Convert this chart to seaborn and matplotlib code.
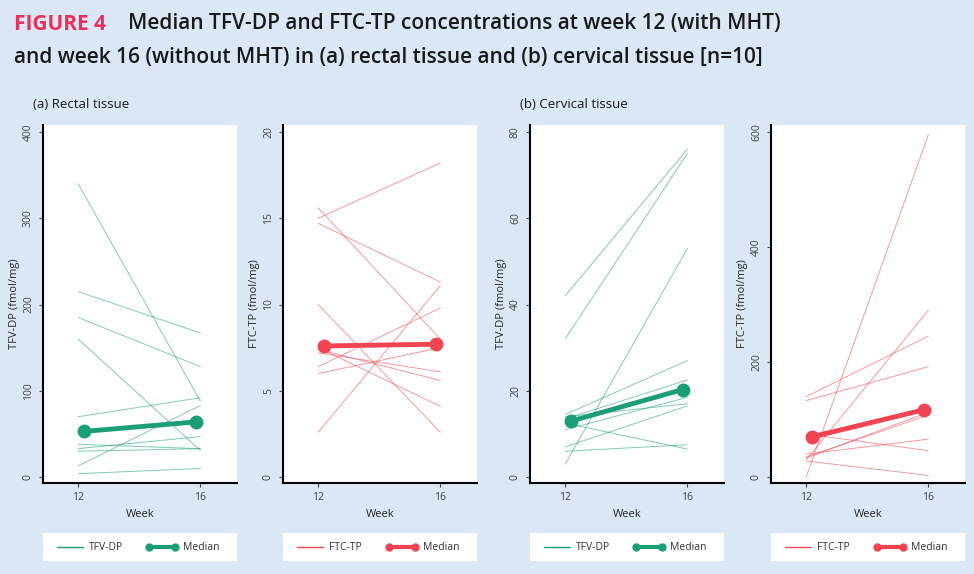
import matplotlib
matplotlib.use("Agg")
import matplotlib.pyplot as plt
import seaborn as sns
import pandas as pd

weeks = [12, 16]
rectal_tfv_12 = [340, 215, 185, 160, 70, 38, 33, 30, 13, 4]
rectal_tfv_16 = [88, 167, 128, 31, 92, 33, 47, 33, 83, 10]
rectal_tfv_median = [53, 64]
rectal_ftc_12 = [15.6, 15.0, 14.7, 10.0, 7.2, 7.5, 6.4, 6.0, 2.6, 7.4]
rectal_ftc_16 = [8.0, 18.2, 11.3, 2.6, 6.1, 4.1, 9.8, 7.5, 11.1, 5.6]
rectal_ftc_median = [7.6, 7.7]
cerv_tfv_12 = [42, 32, 3, 14.5, 13.5, 11, 14, 12.5, 7, 6]
cerv_tfv_16 = [76, 75, 53, 27, 22.5, 18.5, 17, 6.5, 16.5, 7.5]
cerv_tfv_median = [13, 20.3]
cerv_ftc_12 = [0, 140, 133, 30, 75, 40, 28, 33, 72, 35]
cerv_ftc_16 = [595, 245, 192, 290, 46, 66, 3, 113, 118, 108]
cerv_ftc_median = [70, 117]

GREEN = "#1b9e77"
RED = "#f04452"
BG = "#dbe7f4"

sns.set_theme(style="white")
plt.rcParams['font.family'] = ['Open Sans', 'DejaVu Sans']

fig = plt.figure(figsize=(9.74, 5.74), dpi=100, facecolor=BG)
W, H = 974, 574

panels = [
    (43, rectal_tfv_12, rectal_tfv_16, rectal_tfv_median, GREEN, "TFV-DP", 400, [0, 100, 200, 300, 400]),
    (283, rectal_ftc_12, rectal_ftc_16, rectal_ftc_median, RED, "FTC-TP", 20, [0, 5, 10, 15, 20]),
    (530, cerv_tfv_12, cerv_tfv_16, cerv_tfv_median, GREEN, "TFV-DP", 80, [0, 20, 40, 60, 80]),
    (771, cerv_ftc_12, cerv_ftc_16, cerv_ftc_median, RED, "FTC-TP", 600, [0, 200, 400, 600]),
]

for x0, v12, v16, med, col, name, ymax, yt in panels:
    ax = fig.add_axes([x0 / W, 1 - 483 / H, 194 / W, (483 - 125) / H])
    ax.set_facecolor("white")
    rows = []
    for i, (a, b) in enumerate(zip(v12, v16)):
        rows += [dict(pid=i, week=weeks[0], val=a), dict(pid=i, week=weeks[1], val=b)]
    df = pd.DataFrame(rows)
    sns.lineplot(data=df, x="week", y="val", units="pid", estimator=None,
                 color=col, lw=0.7, alpha=0.55, ax=ax, legend=False)
    mdf = pd.DataFrame(dict(week=[12.2, 15.85], val=med))
    sns.lineplot(data=mdf, x="week", y="val", color=col, lw=3.5, marker="o",
                 markersize=10, markeredgewidth=0, ax=ax, legend=False)
    ax.set_xlim(10.85, 17.2)
    ax.set_ylim(-0.017 * ymax, 1.02 * ymax)
    ax.set_xticks([12, 16])
    ax.set_yticks(yt)
    ax.set_yticklabels([str(t) for t in yt], rotation=90, va="center")
    ax.tick_params(axis="both", labelsize=7.5, colors="#444444", length=3, width=0.8,
                   left=True, bottom=True)
    for s in ["top", "right"]:
        ax.spines[s].set_visible(False)
    for s in ["left", "bottom"]:
        ax.spines[s].set_color("black")
        ax.spines[s].set_linewidth(1.5)
    ax.set_xlabel("Week", fontsize=8, labelpad=4)
    ax.set_ylabel(f"{name} (fmol/mg)", fontsize=8, labelpad=2)
    lax = fig.add_axes([x0 / W, 1 - 561 / H, 194 / W, 28 / H])
    lax.set_facecolor("white")
    lax.set_xticks([]); lax.set_yticks([])
    for s in lax.spines.values():
        s.set_visible(False)
    lax.set_xlim(0, 194); lax.set_ylim(0, 28)
    lax.plot([14, 40], [14, 14], color=col, lw=1)
    lax.text(46, 14, name, fontsize=7.5, va="center", color="#333333")
    lax.plot([106, 132], [14, 14], color=col, lw=3)
    lax.plot([106, 132], [14, 14], ls="none", marker="o", markersize=5, color=col)
    lax.text(140, 14, "Median", fontsize=7.5, va="center", color="#333333")

fig.text(14 / W, 1 - 24 / H, "FIGURE 4", fontsize=15, fontweight="bold", color="#e8305a", va="center")
fig.text(128 / W, 1 - 24 / H, "Median TFV-DP and FTC-TP concentrations at week 12 (with MHT)",
         fontsize=15, color="#1a1a1a", va="center", fontweight="semibold")
fig.text(14 / W, 1 - 57 / H, "and week 16 (without MHT) in (a) rectal tissue and (b) cervical tissue [n=10]",
         fontsize=15, color="#1a1a1a", va="center", fontweight="semibold")
fig.text(33 / W, 1 - 104 / H, "(a) Rectal tissue", fontsize=9.5, color="#1a1a1a", va="center")
fig.text(520 / W, 1 - 104 / H, "(b) Cervical tissue", fontsize=9.5, color="#1a1a1a", va="center")

fig.savefig("out.png", dpi=100, facecolor=BG)
